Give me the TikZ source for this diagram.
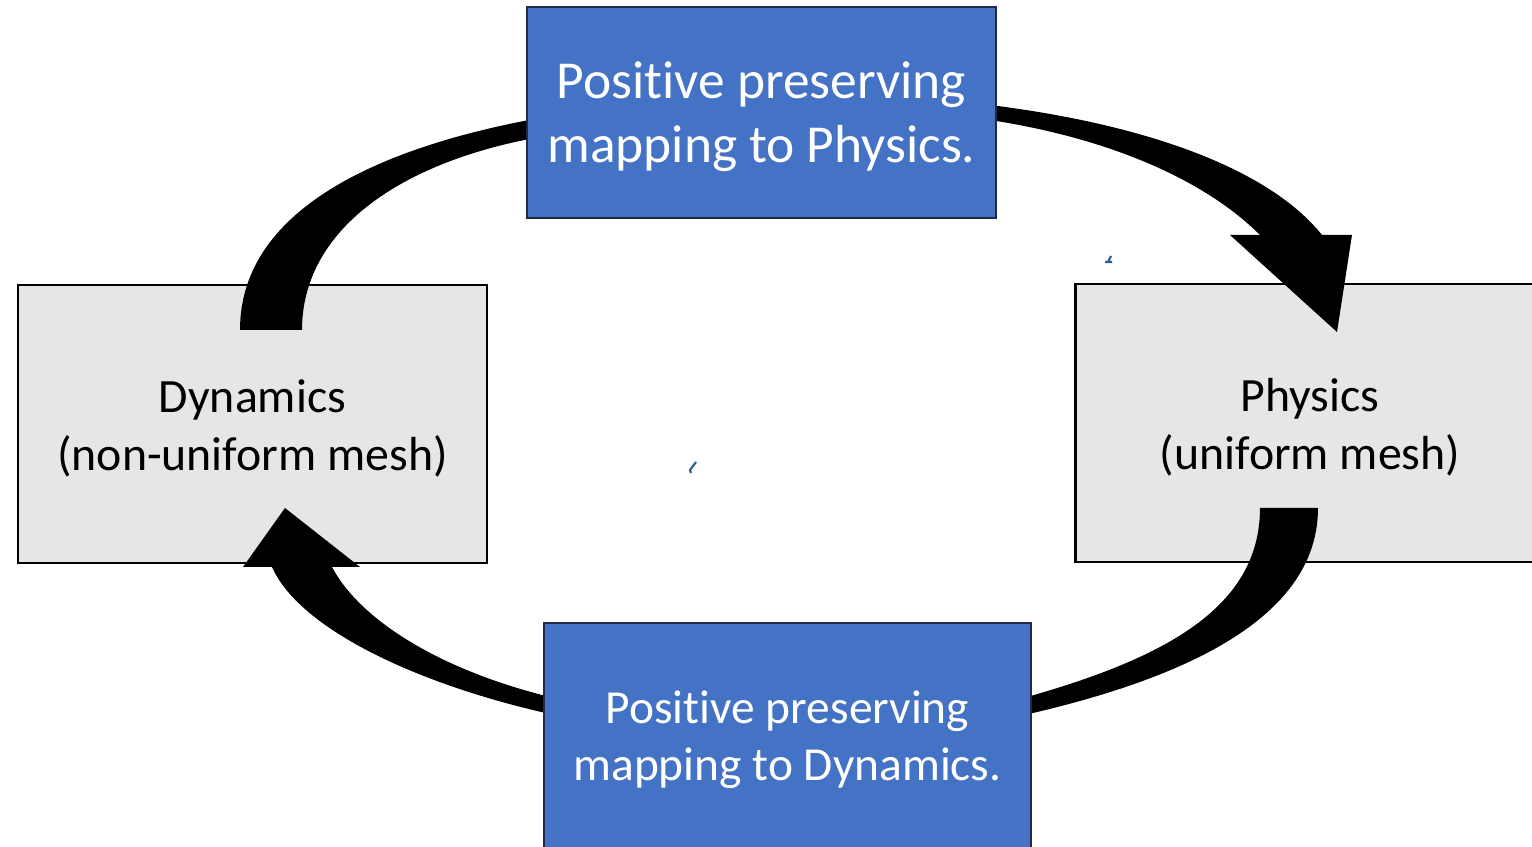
\documentclass[tikz,border=0pt]{standalone}
\usepackage{fontspec}
\setmainfont{Carlito}[Ligatures=NoCommon]
\usepackage{xcolor}
\usepackage{tikz}
\usetikzlibrary{positioning}

\definecolor{mapblue}{HTML}{4472C4}
\definecolor{meshgray}{HTML}{E6E6E6}
\definecolor{mapedge}{HTML}{1F2A44}
\definecolor{speck}{HTML}{2E5C9A}

\begin{document}
\begin{tikzpicture}[
        meshbox/.style = {draw = black, line width = 0.8pt, fill = meshgray,
            minimum width = 4.69cm, minimum height = 2.78cm},
        mapbox/.style = {draw = mapedge, line width = 0.8pt, fill = mapblue},
        boxtext/.style = {align = center, inner sep = 0pt},
        blockarrow/.style = {fill = black}
    ]
        \useasboundingbox (0, 0) rectangle (15.32, -8.47);

        \node[meshbox] (dyn) at (2.525, -4.24) {};
        \node[meshbox] (phys) at (13.10, -4.23) {};
        \node[boxtext, font = \fontsize{13.6}{16.5}\selectfont] (dyntext)
            at ([yshift = -0.04cm] dyn.center) {Dynamics\\(non-uniform mesh)};
        \node[boxtext, font = \fontsize{13.6}{16.5}\selectfont] (phystext)
            at ([yshift = -0.04cm] phys.center) {Physics\\(uniform mesh)};

        \fill[blockarrow] (2.40, -3.30) .. controls (2.40, -2.05) and (3.90, -1.45) .. (5.40, -1.18)
            -- (5.40, -1.37) .. controls (4.00, -1.62) and (3.02, -2.30) .. (3.02, -3.30) -- cycle;

        \fill[blockarrow] (9.90, -1.05) .. controls (11.50, -1.25) and (12.70, -1.70) .. (13.22, -2.35)
            -- (12.60, -2.35) .. controls (12.10, -1.85) and (11.20, -1.40) .. (9.90, -1.20) -- cycle;
        \fill[blockarrow] (12.30, -2.35) -- (13.52, -2.35) -- (13.37, -3.32) -- cycle;

        \fill[blockarrow] (13.18, -5.08) .. controls (13.18, -6.20) and (11.80, -6.80) .. (10.20, -7.16)
            -- (10.20, -6.99) .. controls (11.60, -6.60) and (12.60, -6.10) .. (12.60, -5.08) -- cycle;

        \fill[blockarrow] (5.50, -7.14) .. controls (4.20, -6.85) and (3.00, -6.30) .. (2.72, -5.67)
            -- (3.32, -5.67) .. controls (3.60, -6.20) and (4.40, -6.70) .. (5.50, -6.97) -- cycle;
        \fill[blockarrow] (2.43, -5.67) -- (3.60, -5.67) -- (2.85, -5.08) -- cycle;

        \node[mapbox, minimum width = 4.69cm, minimum height = 2.11cm] (tophys) at (7.615, -1.125) {};
        \node[mapbox, minimum width = 4.87cm, minimum height = 2.28cm] (todyn) at (7.875, -7.37) {};
        \node[boxtext, text = white, font = \fontsize{15.2}{18.2}\selectfont] (tophystext)
            at ([yshift = -0.04cm] tophys.center) {Positive preserving\\mapping to Physics.};
        \node[boxtext, text = white, font = \fontsize{13.5}{16.2}\selectfont] (todyntext)
            at ([yshift = -0.03cm] todyn.center) {Positive preserving\\mapping to Dynamics.};

        \draw[speck, line width = 0.6pt] (6.91, -4.73) -- (6.90, -4.70) -- (6.96, -4.62);
        \draw[speck, line width = 0.6pt] (11.05, -2.62) -- (11.12, -2.62) (11.08, -2.62) -- (11.11, -2.56);
    \end{tikzpicture}
\end{document}
